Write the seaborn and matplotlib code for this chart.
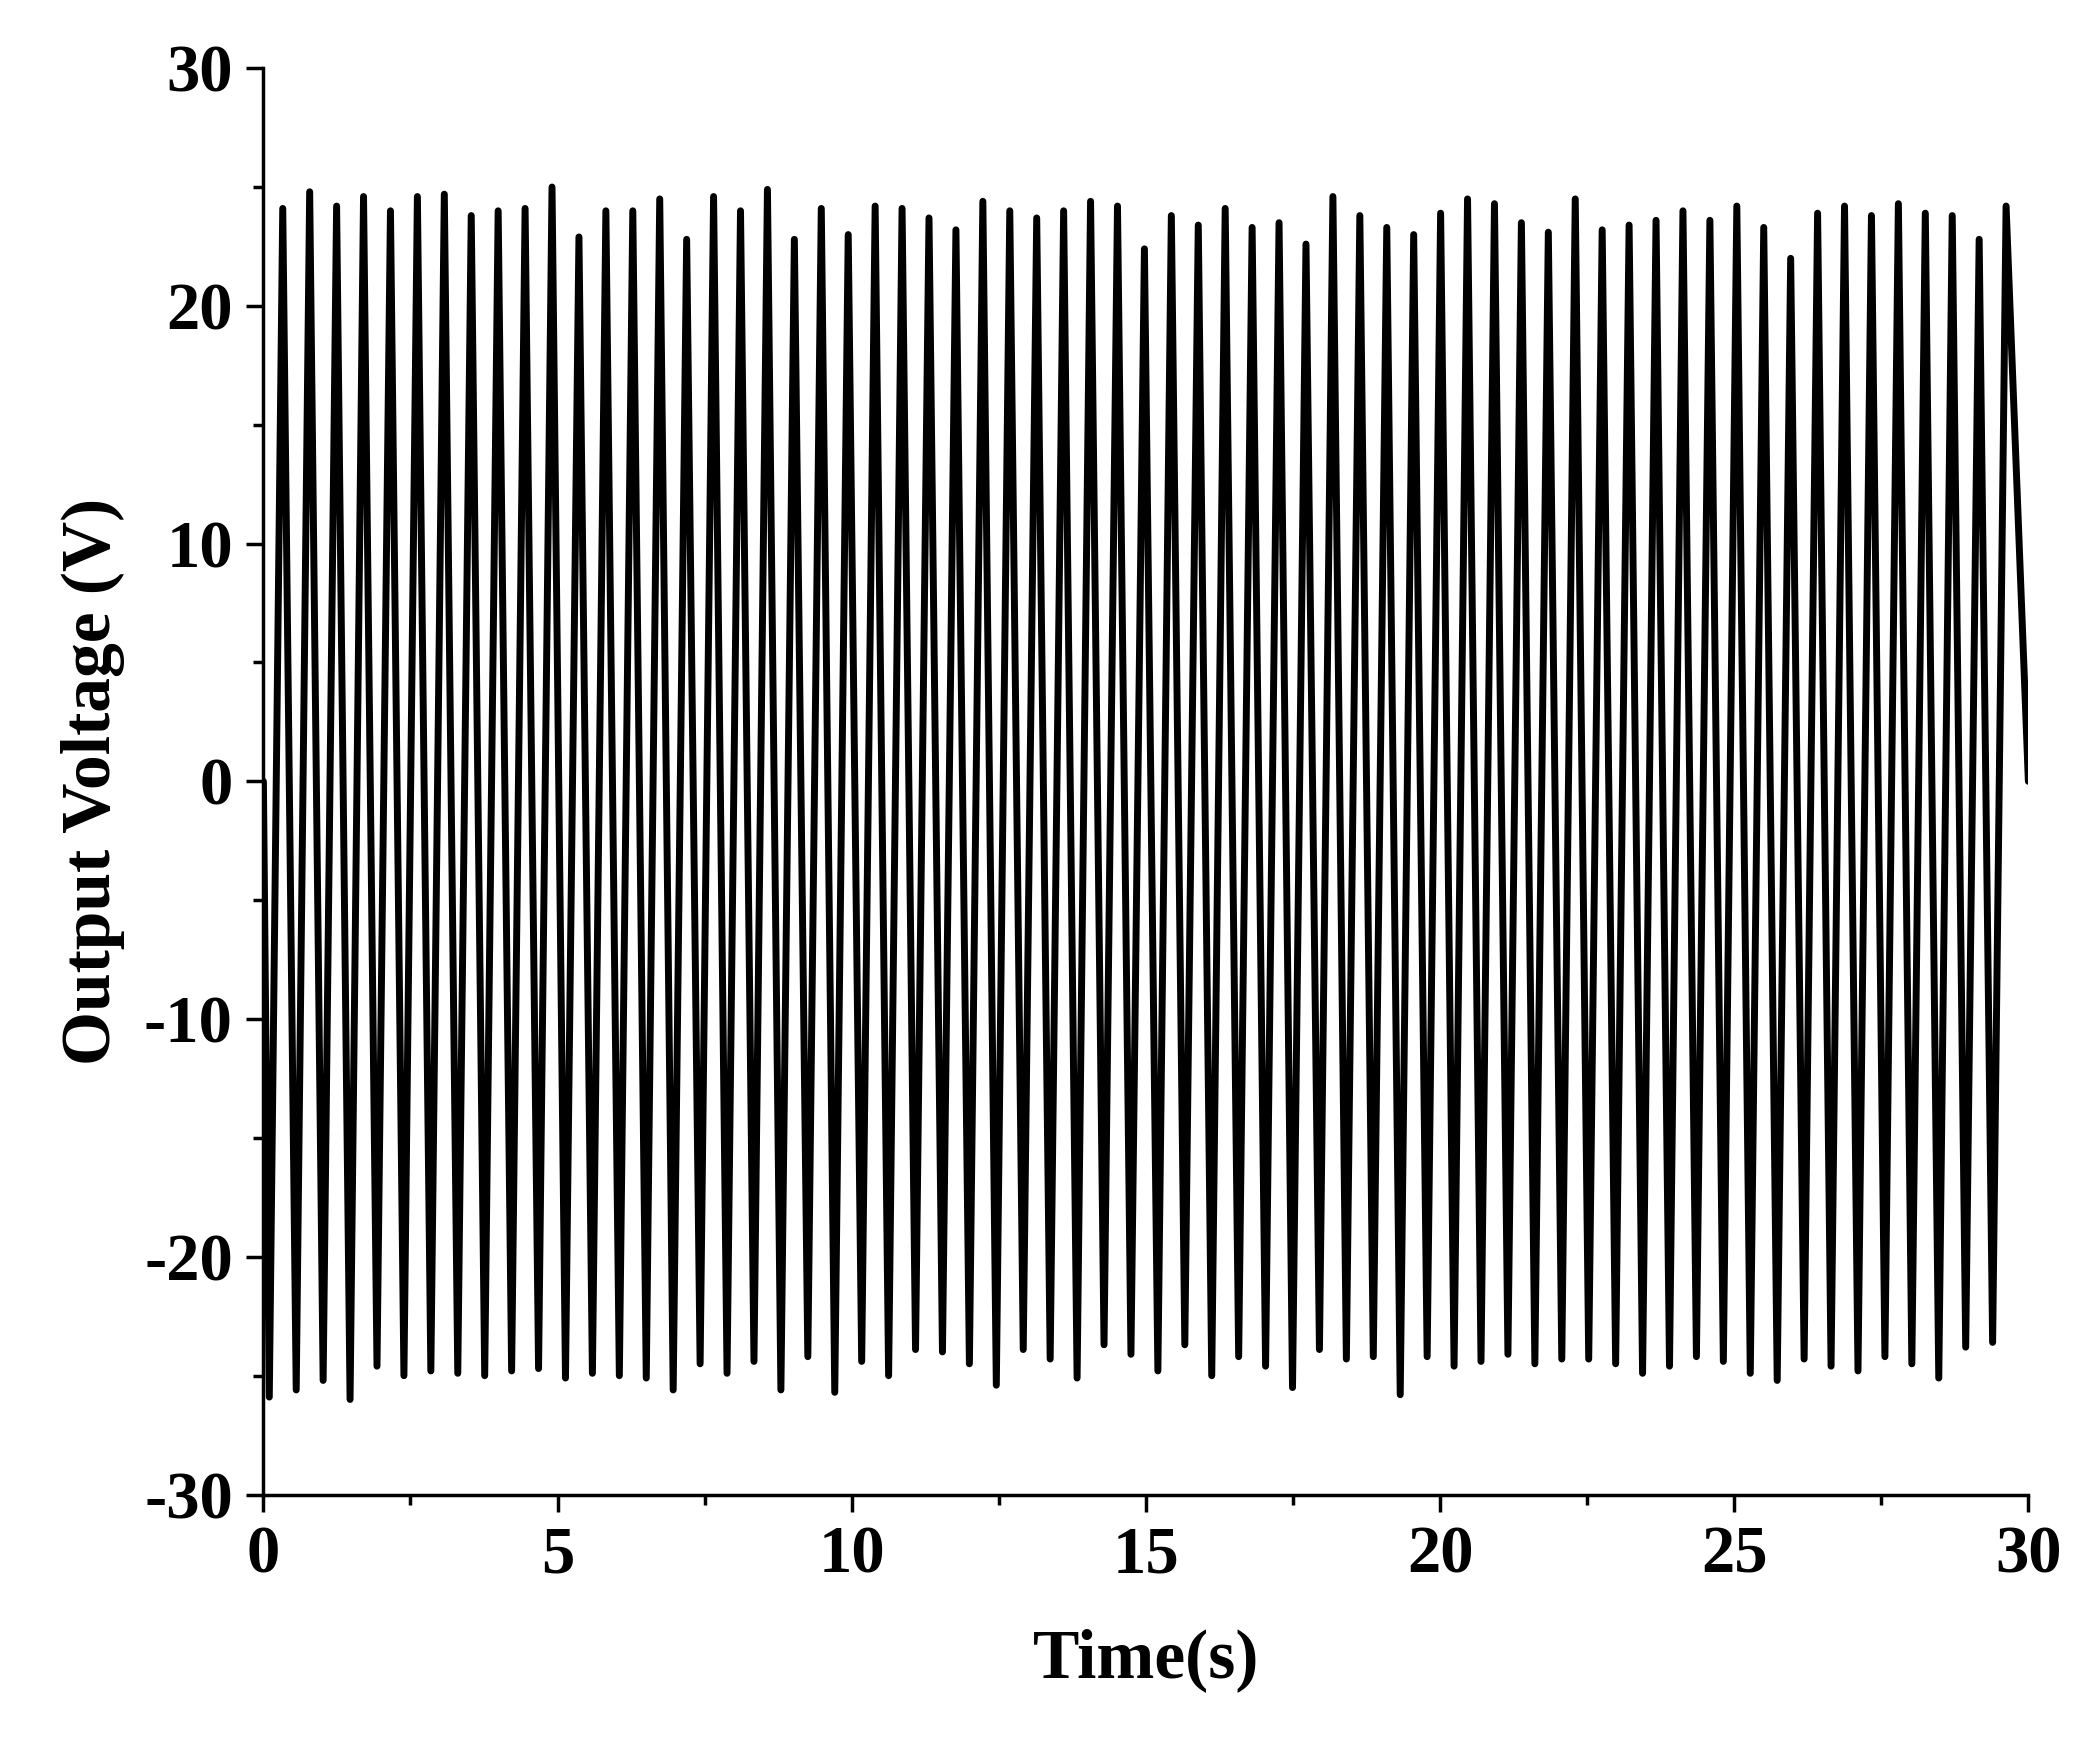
import numpy as np
import pandas as pd
import matplotlib
matplotlib.use("Agg")
import matplotlib.pyplot as plt
import seaborn as sns
from matplotlib.ticker import MultipleLocator

# Peak (maximum) and trough (minimum) voltages of each cycle
peaks = [24.1, 24.8, 24.2, 24.6, 24.0, 24.6, 24.7, 23.8, 24.0, 24.1, 25.0, 22.9, 24.0, 24.0,
         24.5, 22.8, 24.6, 24.0, 24.9, 22.8, 24.1, 23.0, 24.2, 24.1, 23.7, 23.2, 24.4, 24.0,
         23.7, 24.0, 24.4, 24.2, 22.4, 23.8, 23.4, 24.1, 23.3, 23.5, 22.6, 24.6, 23.8, 23.3,
         23.0, 23.9, 24.5, 24.3, 23.5, 23.1, 24.5, 23.2, 23.4, 23.6, 24.0, 23.6, 24.2, 23.3,
         22.0, 23.9, 24.2, 23.8, 24.3, 23.9, 23.8, 22.8, 24.2]
troughs = [-25.9, -25.6, -25.2, -26.0, -24.6, -25.0, -24.8, -24.9, -25.0, -24.8, -24.7, -25.1,
           -24.9, -25.0, -25.1, -25.6, -24.5, -24.9, -24.4, -25.6, -24.2, -25.7, -24.4, -25.0,
           -23.9, -24.0, -24.5, -25.4, -23.9, -24.3, -25.1, -23.7, -24.1, -24.8, -23.7, -25.0,
           -24.2, -24.6, -25.5, -23.9, -24.3, -24.2, -25.8, -24.2, -24.6, -24.4, -24.1, -24.5,
           -24.3, -24.3, -24.5, -24.9, -24.6, -24.2, -24.4, -24.9, -25.2, -24.3, -24.6, -24.8,
           -24.2, -24.5, -25.1, -23.8, -23.6]
period = 29.75 / len(peaks)
start_value = 0.0
end_value = 0.0

times = [0.0]
volts = [start_value]
for i, (pk, tr) in enumerate(zip(peaks, troughs)):
    times += [i * period + 0.1, i * period + 0.1 + period / 2]
    volts += [tr, pk]
times.append(30.0)
volts.append(end_value)
df = pd.DataFrame({"Time(s)": times, "Output Voltage (V)": volts})

sns.set_theme(style="ticks")
plt.rcParams["font.family"] = ["Liberation Serif", "DejaVu Serif"]
plt.rcParams["font.weight"] = "bold"
plt.rcParams["axes.unicode_minus"] = False
plt.rcParams["text.color"] = "black"
plt.rcParams["axes.labelcolor"] = "black"
plt.rcParams["xtick.color"] = "black"
plt.rcParams["ytick.color"] = "black"

fig = plt.figure(figsize=(20.74, 17.48), dpi=100)
ax = fig.add_axes([0.127, 0.145, 0.851, 0.816])
sns.lineplot(data=df, x="Time(s)", y="Output Voltage (V)", ax=ax, color="black", linewidth=5)

ax.set_xlim(0, 30)
ax.set_ylim(-30, 30)
ax.xaxis.set_major_locator(MultipleLocator(5))
ax.xaxis.set_minor_locator(MultipleLocator(2.5))
ax.yaxis.set_major_locator(MultipleLocator(10))
ax.yaxis.set_minor_locator(MultipleLocator(5))
ax.tick_params(which="major", direction="out", length=12, width=2.5, labelsize=48, pad=10)
ax.tick_params(which="minor", direction="out", length=7, width=2.5)
for s in ["top", "right"]:
    ax.spines[s].set_visible(False)
for s in ["left", "bottom"]:
    ax.spines[s].set_linewidth(2.5)
    ax.spines[s].set_color("black")
for lab in ax.get_xticklabels() + ax.get_yticklabels():
    lab.set_fontweight("bold")
ax.set_xlabel("Time(s)", fontsize=50, fontweight="bold", labelpad=30)
ax.set_ylabel("Output Voltage (V)", fontsize=50, fontweight="bold", labelpad=14)

fig.savefig("out.png", dpi=100)
